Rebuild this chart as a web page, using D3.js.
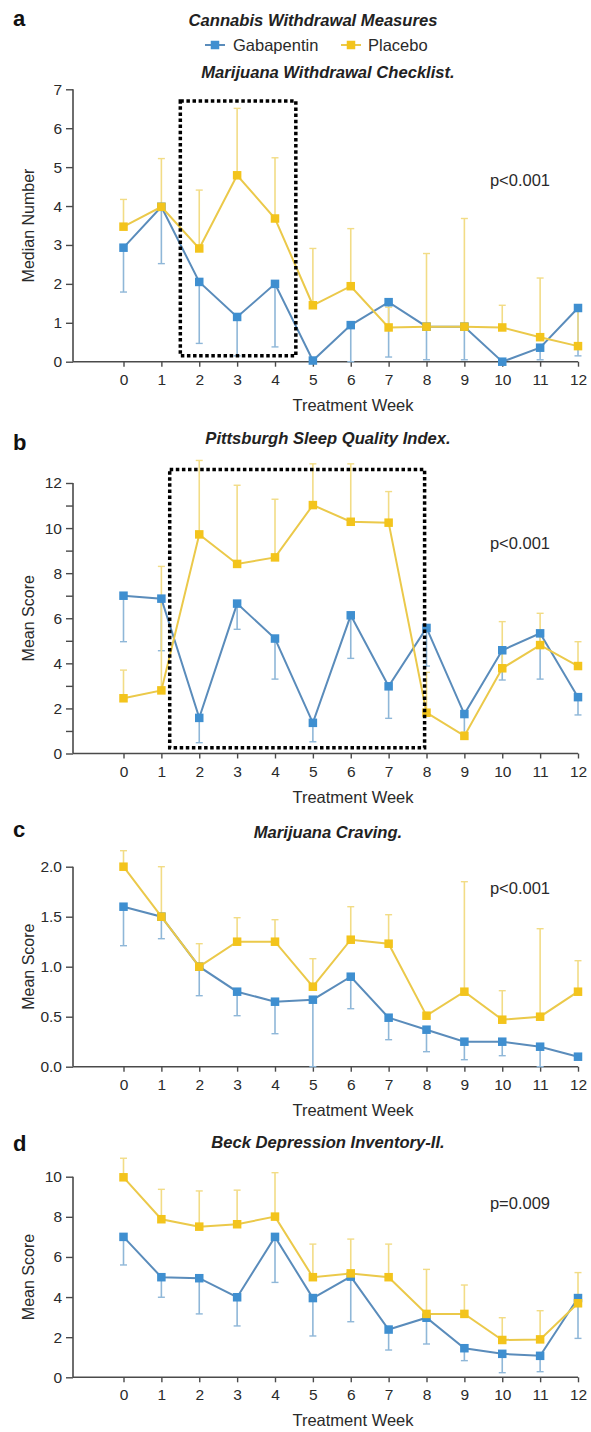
<!DOCTYPE html>
<html><head><meta charset="utf-8">
<script src="https://cdn.jsdelivr.net/npm/d3@7"></script>
<style>
html,body{margin:0;padding:0;background:#fff;}
svg{display:block;font-family:"Liberation Sans",Arial,Helvetica,sans-serif;}
</style></head>
<body>
<svg id="chart" width="591" height="1432"></svg>
<script>
// ---------- data ----------
const weeks = [0,1,2,3,4,5,6,7,8,9,10,11,12];
const seriesNames = ["Gabapentin","Placebo"];
const panelLetters = ["a","b","c","d"];
const panelTitles = ["Marijuana Withdrawal Checklist.","Pittsburgh Sleep Quality Index.","Marijuana Craving.","Beck Depression Inventory-II."];
const mainTitle = "Cannabis Withdrawal Measures";
const yLabels = ["Median Number","Mean Score","Mean Score","Mean Score"];
const pValues = ["p<0.001","p<0.001","p<0.001","p=0.009"];
const xLabel = "Treatment Week";

const aTicks = [0,1,2,3,4,5,6,7];
const bTicks = [0,2,4,6,8,10,12];
const bMinorTicks = [1,3,5,7,9,11];
const cTicks = [0,0.5,1.0,1.5,2.0];
const dTicks = [0,2,4,6,8,10];

// panel a
const aGaba     = [2.93,3.98,2.05,1.15,2.00,0.03,0.94,1.53,0.90,0.90,0.00,0.36,1.38];
const aGabaLow  = [1.79,2.52,0.47,0.15,0.38,0.03,0.00,0.12,0.05,0.05,0.00,0.05,0.15];
const aPlac     = [3.47,3.98,2.91,4.79,3.68,1.45,1.94,0.88,0.90,0.90,0.88,0.63,0.40];
const aPlacHigh = [4.17,5.22,4.41,6.51,5.24,2.91,3.42,1.40,2.78,3.68,1.45,2.15,1.35];
// panel b
const bGaba     = [7.00,6.87,1.58,6.65,5.10,1.36,6.13,2.98,5.57,1.75,4.58,5.33,2.50];
const bGabaLow  = [4.96,4.56,0.48,5.51,3.30,0.52,4.22,1.56,3.88,0.75,3.26,3.30,1.71];
const bPlac     = [2.45,2.80,9.72,8.41,8.70,11.02,10.28,10.24,1.81,0.78,3.78,4.81,3.88];
const bPlacHigh = [3.70,8.30,13.0,11.90,11.28,12.85,12.85,11.62,3.60,0.95,5.85,6.22,4.96];
// panel c
const cGaba     = [1.60,1.50,1.00,0.75,0.65,0.67,0.90,0.49,0.37,0.25,0.25,0.20,0.10];
const cGabaLow  = [1.21,1.28,0.71,0.51,0.33,0.00,0.58,0.27,0.15,0.07,0.11,0.00,0.10];
const cPlac     = [2.00,1.50,1.00,1.25,1.25,0.80,1.27,1.23,0.51,0.75,0.47,0.50,0.75];
const cPlacHigh = [2.16,2.00,1.23,1.49,1.47,1.08,1.60,1.52,0.51,1.85,0.76,1.38,1.06];
// panel d
const dGaba     = [7.00,4.99,4.94,3.99,7.00,3.95,5.02,2.38,2.97,1.45,1.17,1.07,3.95];
const dGabaLow  = [5.60,3.99,3.16,2.56,4.73,2.06,2.77,1.36,1.66,0.83,0.23,0.28,1.94];
const dPlac     = [9.97,7.88,7.51,7.63,8.01,4.99,5.18,4.99,3.16,3.16,1.86,1.89,3.69];
const dPlacHigh = [10.92,9.37,9.29,9.33,10.20,6.64,6.89,6.64,5.38,4.60,2.97,3.32,5.22];

// highlighted ranges (week range, value range) for dotted boxes
const aBox = [[1.5,4.55],[0.15,6.7]];
const bBox = [[1.22,7.95],[0.25,12.6]];

// ---------- styling / layout ----------
const colors = {
  gLine:"#5a8cbb", gMark:"#3f8fd0", gErr:"#8fb7d8",
  pLine:"#ebc94a", pMark:"#f3c41c", pErr:"#f2dc86"
};
const svg = d3.select("#chart");
const xAxisLeft = 73, xAxisRight = 578;
const x = d3.scaleLinear().domain([0,12]).range([123.5,578]);

const panels = [
  {gaba:aGaba, gLow:aGabaLow, plac:aPlac, pHigh:aPlacHigh, ticks:aTicks, minor:[], dom:[0,7], rng:[361.7,89.3], fmt:d3.format("d"), titleY:72, letterY:18, pY:180, box:aBox},
  {gaba:bGaba, gLow:bGabaLow, plac:bPlac, pHigh:bPlacHigh, ticks:bTicks, minor:bMinorTicks, dom:[0,12], rng:[753.5,483], fmt:d3.format("d"), titleY:438, letterY:442, pY:543, box:bBox},
  {gaba:cGaba, gLow:cGabaLow, plac:cPlac, pHigh:cPlacHigh, ticks:cTicks, minor:[], dom:[0,2], rng:[1066.7,866.7], fmt:d3.format(".1f"), titleY:832, letterY:829, pY:888, box:null},
  {gaba:dGaba, gLow:dGabaLow, plac:dPlac, pHigh:dPlacHigh, ticks:dTicks, minor:[], dom:[0,10], rng:[1377.3,1176.7], fmt:d3.format("d"), titleY:1142, letterY:1143, pY:1203, box:null}
];

const textCol = "#2a2a2a", axisCol = "#4a4a4a";

// main title + legend
svg.append("text").attr("x",313).attr("y",20).attr("text-anchor","middle").attr("dominant-baseline","central")
  .attr("font-size",16.6).attr("font-weight","bold").attr("font-style","italic").attr("fill","#222").text(mainTitle);
const legendItems = [
  {name:seriesNames[0], mx:215, tx:233, line:colors.gLine, mark:colors.gMark},
  {name:seriesNames[1], mx:351, tx:368, line:colors.pLine, mark:colors.pMark}
];
legendItems.forEach(l=>{
  svg.append("line").attr("x1",l.mx-10).attr("x2",l.mx+10).attr("y1",45).attr("y2",45).attr("stroke",l.line).attr("stroke-width",2);
  svg.append("rect").attr("x",l.mx-4.25).attr("y",45-4.25).attr("width",8.5).attr("height",8.5).attr("fill",l.mark);
  svg.append("text").attr("x",l.tx).attr("y",45).attr("dominant-baseline","central").attr("font-size",16.5).attr("fill",textCol).text(l.name);
});

panels.forEach((p,i)=>{
  const y = d3.scaleLinear().domain(p.dom).range(p.rng);
  const g = svg.append("g");
  const y0 = y(0);

  // panel letter
  g.append("text").attr("x",13).attr("y",p.letterY).attr("dominant-baseline","central")
    .attr("font-size",22).attr("font-weight","bold").attr("fill","#111").text(panelLetters[i]);
  // panel title
  g.append("text").attr("x",328).attr("y",p.titleY).attr("text-anchor","middle").attr("dominant-baseline","central")
    .attr("font-size",16.6).attr("font-weight","bold").attr("font-style","italic").attr("fill","#222").text(panelTitles[i]);

  // y axis
  const yAxis = d3.axisLeft(y).tickValues(p.ticks).tickFormat(p.fmt).tickSize(7).tickPadding(4);
  const ya = g.append("g").attr("transform",`translate(${xAxisLeft},0)`).call(yAxis);
  ya.select(".domain").attr("stroke",axisCol).attr("stroke-width",1.6)
    .attr("d",`M-0,${y(p.dom[1])}V${y0}`);
  ya.selectAll(".tick line").attr("stroke",axisCol).attr("stroke-width",1.4);
  ya.selectAll(".tick text").attr("font-size",15.5).attr("fill",textCol).attr("font-family","Liberation Sans, Arial, sans-serif");
  if (p.minor.length) {
    const ym = d3.axisLeft(y).tickValues(p.minor).tickFormat("").tickSize(7);
    const ymg = g.append("g").attr("transform",`translate(${xAxisLeft},0)`).call(ym);
    ymg.select(".domain").remove();
    ymg.selectAll(".tick line").attr("stroke",axisCol).attr("stroke-width",1.4);
  }
  // y label
  g.append("text").attr("transform",`translate(28,${(p.rng[0]+p.rng[1])/2}) rotate(-90)`)
    .attr("text-anchor","middle").attr("dominant-baseline","central").attr("font-size",16).attr("fill",textCol).text(yLabels[i]);

  // x axis
  const xAxis = d3.axisBottom(x).tickValues(weeks).tickFormat(d3.format("d")).tickSize(5).tickPadding(7);
  const xa = g.append("g").attr("transform",`translate(0,${y0})`).call(xAxis);
  xa.select(".domain").attr("stroke",axisCol).attr("stroke-width",1.6).attr("d",`M${xAxisLeft},0H${xAxisRight}`);
  xa.selectAll(".tick line").attr("stroke",axisCol).attr("stroke-width",1.4);
  xa.selectAll(".tick text").attr("font-size",15.5).attr("fill",textCol).attr("font-family","Liberation Sans, Arial, sans-serif");
  g.append("text").attr("x",353).attr("y",y0+43).attr("text-anchor","middle").attr("dominant-baseline","central")
    .attr("font-size",16.5).attr("fill",textCol).text(xLabel);

  // error bars
  const drawErr = (vals, bounds, col) => {
    const eg = g.append("g");
    weeks.forEach((w,k)=>{
      const cx = x(w);
      eg.append("line").attr("x1",cx).attr("x2",cx).attr("y1",y(vals[k])).attr("y2",y(bounds[k])).attr("stroke",col).attr("stroke-width",1.6);
      eg.append("line").attr("x1",cx-3.5).attr("x2",cx+3.5).attr("y1",y(bounds[k])).attr("y2",y(bounds[k])).attr("stroke",col).attr("stroke-width",1.4);
    });
  };
  drawErr(p.gaba, p.gLow, colors.gErr);
  drawErr(p.plac, p.pHigh, colors.pErr);

  const line = d3.line().x((d,k)=>x(weeks[k])).y(d=>y(d));
  const drawSeries = (vals, lc, mc) => {
    g.append("path").attr("d",line(vals)).attr("fill","none").attr("stroke",lc).attr("stroke-width",2);
    g.append("g").selectAll("rect").data(vals).join("rect")
      .attr("x",(d,k)=>x(weeks[k])-4.25).attr("y",d=>y(d)-4.25).attr("width",8.5).attr("height",8.5).attr("fill",mc);
  };
  drawSeries(p.gaba, colors.gLine, colors.gMark);
  drawSeries(p.plac, colors.pLine, colors.pMark);

  // p-value
  g.append("text").attr("x",520).attr("y",p.pY).attr("text-anchor","middle").attr("dominant-baseline","central")
    .attr("font-size",16.5).attr("fill",textCol).text(pValues[i]);

  // dotted highlight box
  if (p.box) {
    const bx0 = x(p.box[0][0]), bx1 = x(p.box[0][1]);
    const by0 = y(p.box[1][1]), by1 = y(p.box[1][0]);
    g.append("rect").attr("x",bx0).attr("y",by0).attr("width",bx1-bx0).attr("height",by1-by0)
      .attr("fill","none").attr("stroke","#000").attr("stroke-width",3.5).attr("stroke-dasharray","3.5,2.6");
  }
});
</script>
</body></html>
